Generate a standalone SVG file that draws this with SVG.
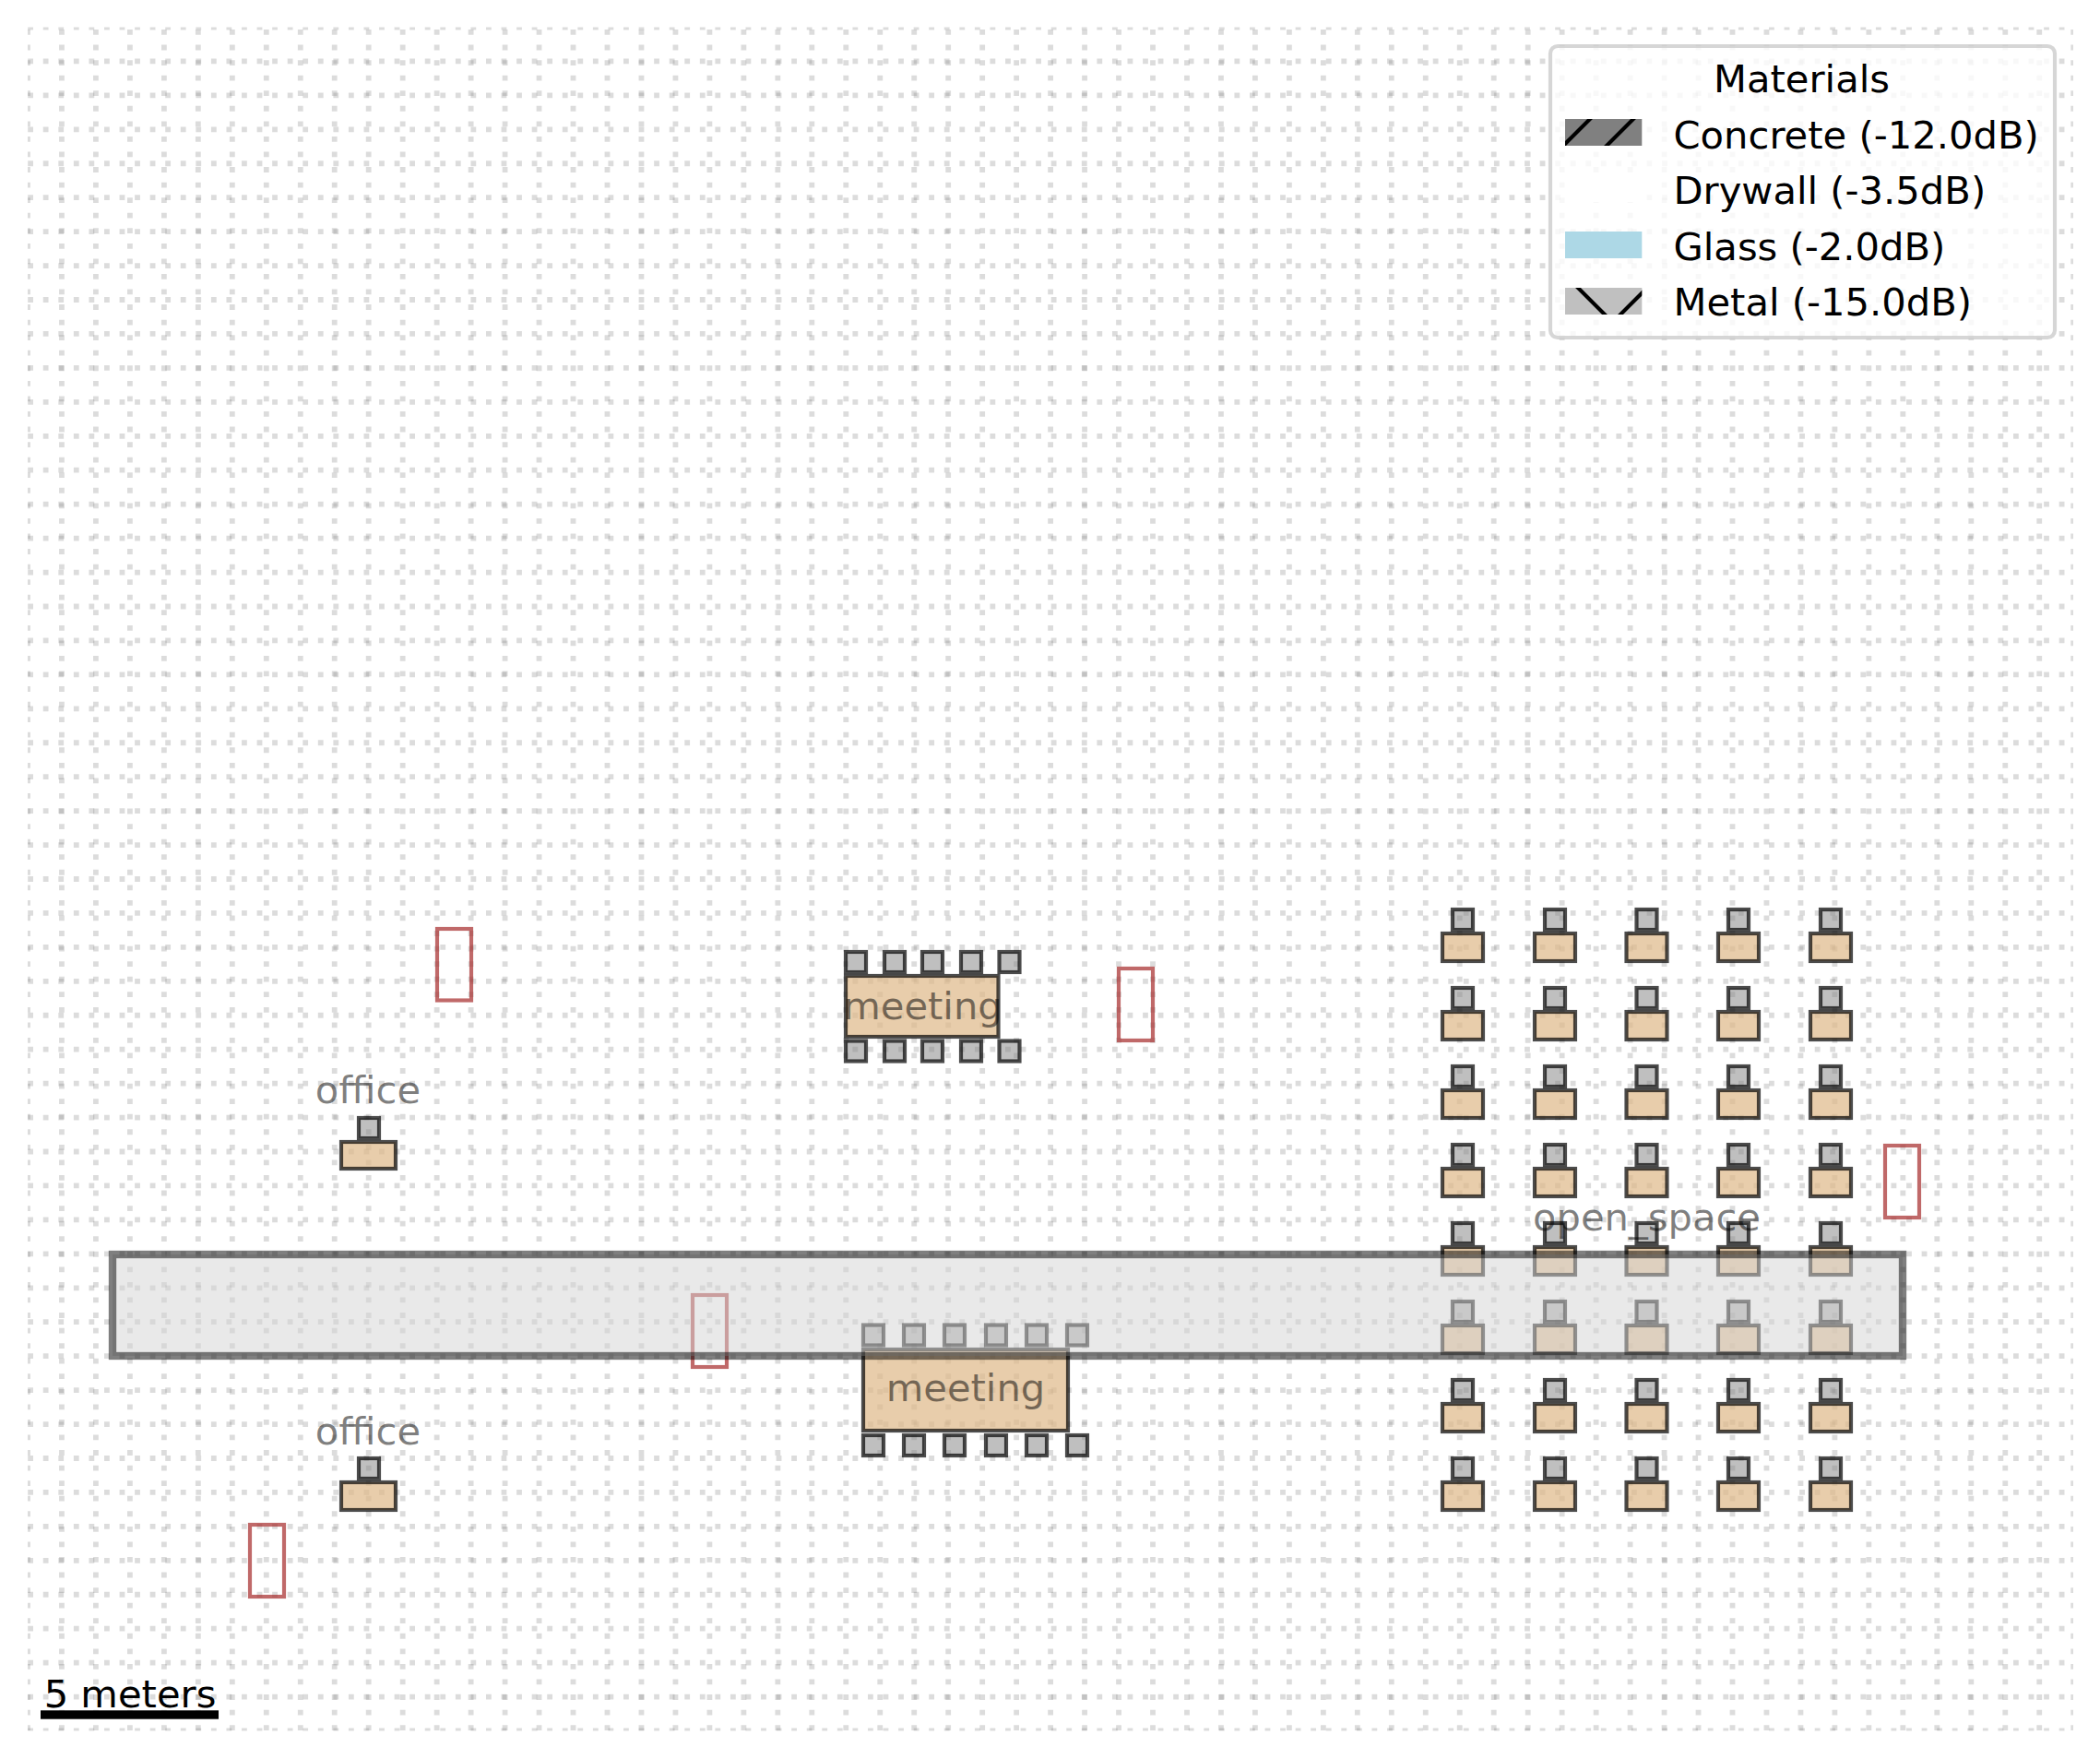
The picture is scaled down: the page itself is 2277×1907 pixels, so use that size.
<svg xmlns="http://www.w3.org/2000/svg" width="2277" height="1907" viewBox="0 0 2277 1907">
<style>
text{font-family:"DejaVu Sans","Liberation Sans",sans-serif;font-size:41.67px}
.grid{fill:none;stroke:#808080;stroke-opacity:.28;stroke-width:5.8;stroke-dasharray:5.8 10.76}
.desk{fill:#deb887;fill-opacity:.7;stroke:#000;stroke-opacity:.7;stroke-width:4.17}
.chair{fill:#808080;fill-opacity:.5;stroke:#000;stroke-opacity:.7;stroke-width:4.17}
.door{fill:none;stroke:#a52a2a;stroke-opacity:.7;stroke-width:4.17}
.zone{fill:#000;fill-opacity:.5;text-anchor:middle}
.hatch{stroke:#000;stroke-width:4.17;fill:none}
</style>
<defs>
<clipPath id="axes"><rect x="30" y="29.5" width="2218" height="1847"/></clipPath>
<clipPath id="sw1"><rect x="1697" y="129" width="83.3" height="29"/></clipPath>
<clipPath id="sw4"><rect x="1697" y="312" width="83.3" height="29"/></clipPath>
<g id="ws"><rect class="desk" x="0" y="26" width="44" height="30"/><rect class="chair" x="11" y="0" width="22" height="22"/></g>
</defs>
<g id="grid" clip-path="url(#axes)">
<path class="grid" d="M30 1876V30M66.97 1876V30M103.94 1876V30M140.91 1876V30M177.88 1876V30M214.85 1876V30M251.82 1876V30M288.79 1876V30M325.76 1876V30M362.73 1876V30M399.7 1876V30M436.67 1876V30M473.64 1876V30M510.61 1876V30M547.58 1876V30M584.55 1876V30M621.52 1876V30M658.49 1876V30M695.46 1876V30M732.43 1876V30M769.4 1876V30M806.37 1876V30M843.34 1876V30M880.31 1876V30M917.28 1876V30M954.25 1876V30M991.22 1876V30M1028.19 1876V30M1065.16 1876V30M1102.13 1876V30M1139.1 1876V30M1176.07 1876V30M1213.04 1876V30M1250.01 1876V30M1286.98 1876V30M1323.95 1876V30M1360.92 1876V30M1397.89 1876V30M1434.86 1876V30M1471.83 1876V30M1508.8 1876V30M1545.77 1876V30M1582.74 1876V30M1619.71 1876V30M1656.68 1876V30M1693.65 1876V30M1730.62 1876V30M1767.59 1876V30M1804.56 1876V30M1841.53 1876V30M1878.5 1876V30M1915.47 1876V30M1952.44 1876V30M1989.41 1876V30M2026.38 1876V30M2063.35 1876V30M2100.32 1876V30M2137.29 1876V30M2174.26 1876V30M2211.23 1876V30M2248.2 1876V30"/>
<path class="grid" d="M30.2 29.5H2248M30.2 66.44H2248M30.2 103.38H2248M30.2 140.32H2248M30.2 177.26H2248M30.2 214.2H2248M30.2 251.14H2248M30.2 288.08H2248M30.2 325.02H2248M30.2 361.96H2248M30.2 398.9H2248M30.2 435.84H2248M30.2 472.78H2248M30.2 509.72H2248M30.2 546.66H2248M30.2 583.6H2248M30.2 620.54H2248M30.2 657.48H2248M30.2 694.42H2248M30.2 731.36H2248M30.2 768.3H2248M30.2 805.24H2248M30.2 842.18H2248M30.2 879.12H2248M30.2 916.06H2248M30.2 953H2248M30.2 989.94H2248M30.2 1026.88H2248M30.2 1063.82H2248M30.2 1100.76H2248M30.2 1137.7H2248M30.2 1174.64H2248M30.2 1211.58H2248M30.2 1248.52H2248M30.2 1285.46H2248M30.2 1322.4H2248M30.2 1359.34H2248M30.2 1396.28H2248M30.2 1433.22H2248M30.2 1470.16H2248M30.2 1507.1H2248M30.2 1544.04H2248M30.2 1580.98H2248M30.2 1617.92H2248M30.2 1654.86H2248M30.2 1691.8H2248M30.2 1728.74H2248M30.2 1765.68H2248M30.2 1802.62H2248M30.2 1839.56H2248M30.2 1876.5H2248"/>
</g>
<g id="open-space-desks">
<g id="ws-0-0"><use href="#ws" x="1564" y="986"/></g><g id="ws-0-1"><use href="#ws" x="1664" y="986"/></g><g id="ws-0-2"><use href="#ws" x="1763.5" y="986"/></g><g id="ws-0-3"><use href="#ws" x="1863" y="986"/></g><g id="ws-0-4"><use href="#ws" x="1963" y="986"/></g>
<g id="ws-1-0"><use href="#ws" x="1564" y="1071"/></g><g id="ws-1-1"><use href="#ws" x="1664" y="1071"/></g><g id="ws-1-2"><use href="#ws" x="1763.5" y="1071"/></g><g id="ws-1-3"><use href="#ws" x="1863" y="1071"/></g><g id="ws-1-4"><use href="#ws" x="1963" y="1071"/></g>
<g id="ws-2-0"><use href="#ws" x="1564" y="1156"/></g><g id="ws-2-1"><use href="#ws" x="1664" y="1156"/></g><g id="ws-2-2"><use href="#ws" x="1763.5" y="1156"/></g><g id="ws-2-3"><use href="#ws" x="1863" y="1156"/></g><g id="ws-2-4"><use href="#ws" x="1963" y="1156"/></g>
<g id="ws-3-0"><use href="#ws" x="1564" y="1241"/></g><g id="ws-3-1"><use href="#ws" x="1664" y="1241"/></g><g id="ws-3-2"><use href="#ws" x="1763.5" y="1241"/></g><g id="ws-3-3"><use href="#ws" x="1863" y="1241"/></g><g id="ws-3-4"><use href="#ws" x="1963" y="1241"/></g>
<g id="ws-4-0"><use href="#ws" x="1564" y="1326"/></g><g id="ws-4-1"><use href="#ws" x="1664" y="1326"/></g><g id="ws-4-2"><use href="#ws" x="1763.5" y="1326"/></g><g id="ws-4-3"><use href="#ws" x="1863" y="1326"/></g><g id="ws-4-4"><use href="#ws" x="1963" y="1326"/></g>
<g id="ws-5-0"><use href="#ws" x="1564" y="1411"/></g><g id="ws-5-1"><use href="#ws" x="1664" y="1411"/></g><g id="ws-5-2"><use href="#ws" x="1763.5" y="1411"/></g><g id="ws-5-3"><use href="#ws" x="1863" y="1411"/></g><g id="ws-5-4"><use href="#ws" x="1963" y="1411"/></g>
<g id="ws-6-0"><use href="#ws" x="1564" y="1496"/></g><g id="ws-6-1"><use href="#ws" x="1664" y="1496"/></g><g id="ws-6-2"><use href="#ws" x="1763.5" y="1496"/></g><g id="ws-6-3"><use href="#ws" x="1863" y="1496"/></g><g id="ws-6-4"><use href="#ws" x="1963" y="1496"/></g>
<g id="ws-7-0"><use href="#ws" x="1564" y="1581"/></g><g id="ws-7-1"><use href="#ws" x="1664" y="1581"/></g><g id="ws-7-2"><use href="#ws" x="1763.5" y="1581"/></g><g id="ws-7-3"><use href="#ws" x="1863" y="1581"/></g><g id="ws-7-4"><use href="#ws" x="1963" y="1581"/></g>
</g>
<g id="office-1-desk"><rect class="desk" x="370" y="1238" width="59" height="29"/><rect class="chair" x="389" y="1212" width="22" height="22"/></g>
<g id="office-2-desk"><rect class="desk" x="370" y="1607" width="59" height="30"/><rect class="chair" x="389" y="1581" width="22" height="22"/></g>
<g id="meeting-1-table">
<rect class="desk" x="917" y="1058" width="165.5" height="66"/>
<rect class="chair" x="917" y="1032" width="22" height="22"/><rect class="chair" x="959" y="1032" width="22" height="22"/><rect class="chair" x="1000" y="1032" width="22" height="22"/><rect class="chair" x="1042" y="1032" width="22" height="22"/><rect class="chair" x="1083.5" y="1032" width="22" height="22"/>
<rect class="chair" x="917" y="1128.5" width="22" height="22"/><rect class="chair" x="959" y="1128.5" width="22" height="22"/><rect class="chair" x="1000" y="1128.5" width="22" height="22"/><rect class="chair" x="1042" y="1128.5" width="22" height="22"/><rect class="chair" x="1083.5" y="1128.5" width="22" height="22"/>
</g>
<g id="meeting-2-table">
<rect class="desk" x="936" y="1463" width="222" height="88"/>
<rect class="chair" x="936" y="1436.5" width="22" height="22"/><rect class="chair" x="980" y="1436.5" width="22" height="22"/><rect class="chair" x="1024" y="1436.5" width="22" height="22"/><rect class="chair" x="1069" y="1436.5" width="22" height="22"/><rect class="chair" x="1113" y="1436.5" width="22" height="22"/><rect class="chair" x="1157" y="1436.5" width="22" height="22"/>
<rect class="chair" x="936" y="1556" width="22" height="22"/><rect class="chair" x="980" y="1556" width="22" height="22"/><rect class="chair" x="1024" y="1556" width="22" height="22"/><rect class="chair" x="1069" y="1556" width="22" height="22"/><rect class="chair" x="1113" y="1556" width="22" height="22"/><rect class="chair" x="1157" y="1556" width="22" height="22"/>
</g>
<g id="markers">
<rect id="marker-1" class="door" x="474" y="1007" width="37" height="77.5"/>
<rect id="marker-2" class="door" x="1213" y="1050" width="37" height="78"/>
<rect id="marker-3" class="door" x="2044" y="1242" width="37" height="78"/>
<rect id="marker-4" class="door" x="751" y="1404" width="37" height="78"/>
<rect id="marker-5" class="door" x="271" y="1653" width="37" height="78"/>
</g>
<g id="corridor"><rect x="122" y="1360" width="1941" height="110" fill="#d3d3d3" fill-opacity=".5" stroke="#000" stroke-opacity=".5" stroke-width="8.33"/></g>
<g id="labels">
<text class="zone" x="399" y="1196">office</text>
<text class="zone" x="399" y="1566">office</text>
<text class="zone" x="1000.5" y="1104.5">meeting</text>
<text class="zone" x="1047" y="1519">meeting</text>
<text class="zone" x="1785.5" y="1334">open_space</text>
</g>
<g id="legend">
<rect x="1681" y="50" width="547" height="316" rx="8" ry="8" fill="#fff" fill-opacity=".8" stroke="#ccc" stroke-opacity=".8" stroke-width="4.17"/>
<text x="1858" y="99.5">Materials</text>
<rect x="1697" y="129" width="83.3" height="29" fill="#808080"/>
<g clip-path="url(#sw1)"><path class="hatch" d="M1695 158L1726 127M1740 160L1773 127"/></g>
<text x="1814.5" y="160.5">Concrete (-12.0dB)</text>
<rect x="1697" y="190" width="83.3" height="29" fill="#fff"/>
<text x="1814.5" y="220.5">Drywall (-3.5dB)</text>
<rect x="1697" y="251" width="83.3" height="29" fill="#add8e6"/>
<text x="1814.5" y="281.5">Glass (-2.0dB)</text>
<rect x="1697" y="312" width="83.3" height="29" fill="#c0c0c0"/>
<g clip-path="url(#sw4)"><path class="hatch" d="M1709 310L1744 345M1754 344L1786 312"/></g>
<text x="1814.5" y="342">Metal (-15.0dB)</text>
</g>
<g id="scale-bar">
<rect x="44" y="1854.3" width="193" height="9.4" fill="#000"/>
<text x="141" y="1851.3" text-anchor="middle">5 meters</text>
</g>
</svg>
